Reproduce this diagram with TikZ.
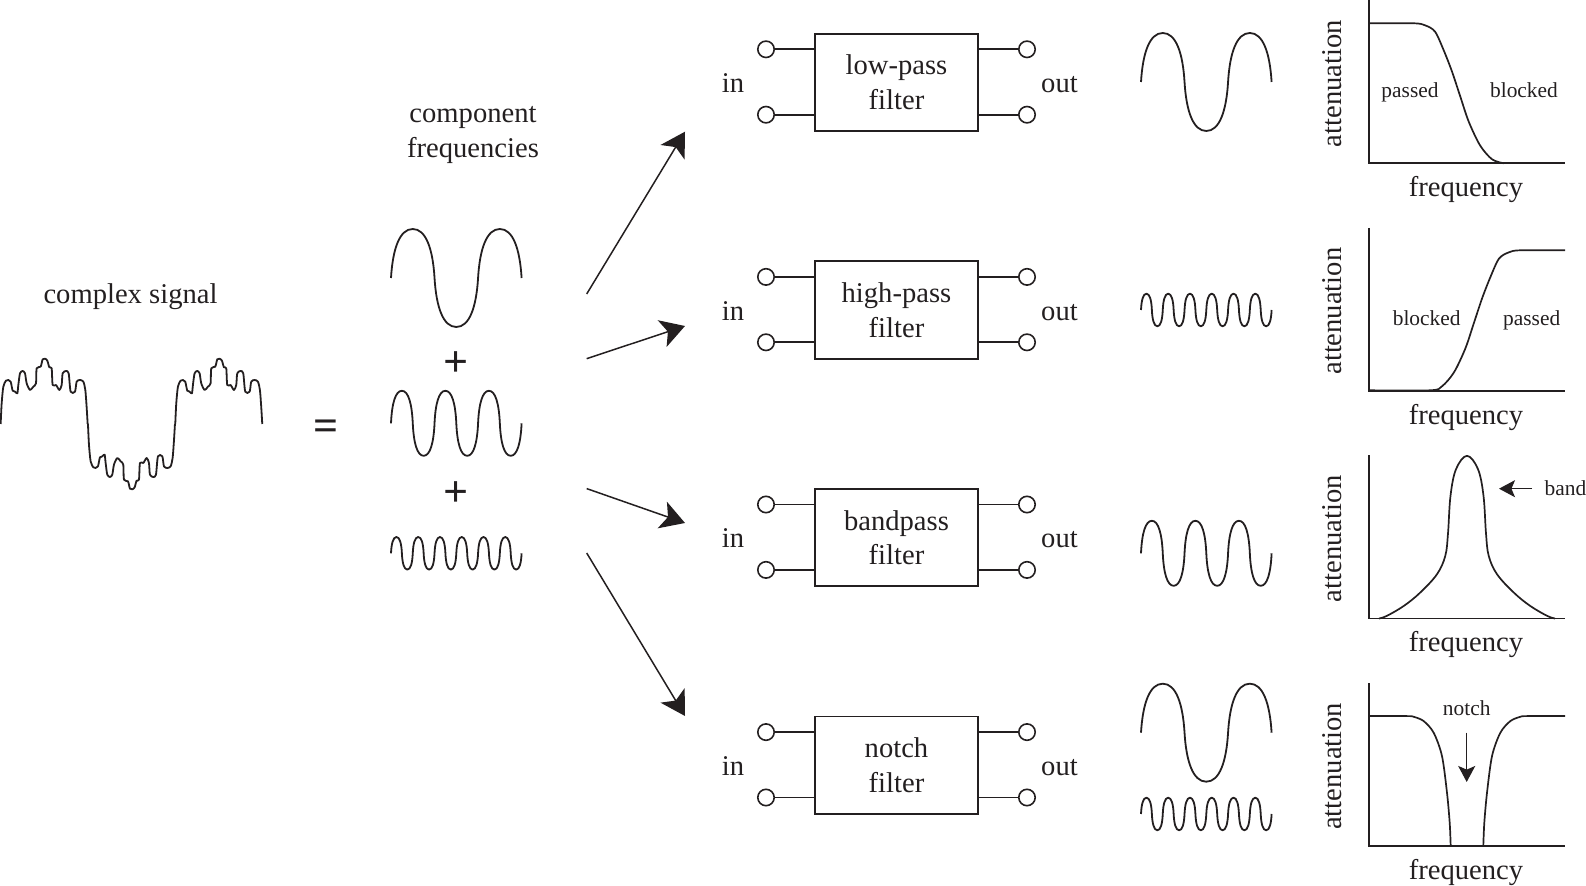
\documentclass[tikz,border=0pt]{standalone}
\usepackage{fontspec}
\setmainfont{Liberation Serif}
\usepackage{xcolor}
\usepackage{tikz}
\usetikzlibrary{arrows.meta}
\definecolor{figInk}{HTML}{231F20}

% Wave of round humps: start x, midline y, amplitude, number of half periods
\newcommand{\wavecurve}[4]{%
  \pgfmathsetmacro{\halfw}{130.6/#4}
  \draw[wave] (#1,#2) foreach \i in {1,...,#4} {
    .. controls ({#1+(\i-1+0.04)*\halfw},{#2-(2*mod(\i,2)-1)*0.6*#3}) and ({#1+(\i-1+0.2)*\halfw},{#2-(2*mod(\i,2)-1)*#3}) .. ({#1+(\i-1+0.5)*\halfw},{#2-(2*mod(\i,2)-1)*#3})
    .. controls ({#1+(\i-1+0.8)*\halfw},{#2-(2*mod(\i,2)-1)*#3}) and ({#1+(\i-1+0.96)*\halfw},{#2-(2*mod(\i,2)-1)*0.6*#3}) .. ({#1+\i*\halfw},#2)
  };
}

\begin{document}
\begin{tikzpicture}[
  x=0.5pt, y=-0.5pt,
  color=figInk,
  wave/.style={line width=0.9pt, line join=round},
  response/.style={line width=0.85pt, line join=round},
  axis line/.style={line width=0.85pt},
  filter box/.style={draw, line width=0.9pt, minimum width=81.5pt, minimum height=48.7pt, inner sep=0pt, align=center, font=\fontsize{14.3}{17.3}\selectfont},
  terminal/.style={draw, circle, line width=0.8pt, minimum size=8.2pt, inner sep=0pt},
  lead/.style={line width=0.9pt},
  main label/.style={font=\fontsize{14.3}{17.3}\selectfont, inner sep=0pt, align=center},
  small label/.style={font=\fontsize{10.7}{12}\selectfont, inner sep=0pt, anchor=base},
  sign label/.style={font=\fontsize{22}{24}\selectfont\bfseries, inner sep=0pt},
  big arrow/.style={line width=0.75pt, -{Stealth[length=12pt, width=14pt, inset=3pt]}},
  small arrow/.style={line width=0.75pt, -{Stealth[length=8pt, width=8.5pt, inset=1.8pt]}},
]
\useasboundingbox (0,0) rectangle (1586,886);

% Complex signal, one hump repeated and flipped
\node[main label, anchor=base] (complexlabel) at (130.5,304) {complex signal};
\foreach \xo/\ys in {0/1, 87.3/-1, 174.6/1} {
  \begin{scope}[shift={(\xo,424)}, xscale=0.3333, yscale=0.3333*\ys]
    \draw[wave] plot[smooth, tension=0.45] coordinates {(2,0) (5,-62) (10,-112) (18,-130) (25,-132) (32,-127) (38,-100) (45,-97) (52,-92) (55,-117) (60,-152) (68,-159) (75,-152) (80,-122) (90,-102) (100,-112) (108,-122) (110,-167) (122,-172) (128,-194) (135,-196) (142,-190) (148,-170) (155,-167) (158,-117) (168,-117) (178,-102) (185,-117) (188,-152) (198,-159) (206,-152) (212,-97) (225,-97) (230,-127) (240,-132) (250,-127) (256,-102) (260,-50) (263,0)};
  \end{scope}
}
\node[sign label] (equals) at (326,430.5) {=};

% Component frequencies
\node[main label] (complabel) at (473,135) {component\\frequencies};
\wavecurve{391}{278}{49}{3}
\node[sign label] (plusa) at (456.3,364.5) {+};
\wavecurve{391}{423.3}{32.5}{6}
\node[sign label] (plusb) at (456.3,494.5) {+};
\wavecurve{391}{553.3}{16.3}{12}

% Arrows out to the four filters
\coordinate (startA) at (586.7,294);
\coordinate (tipA) at (685,131.7);
\coordinate (startB) at (586.7,358.7);
\coordinate (tipB) at (685,326);
\coordinate (startC) at (586.7,488.6);
\coordinate (tipC) at (685,523);
\coordinate (startD) at (586.7,553);
\coordinate (tipD) at (685,716);
\draw[big arrow] (startA) -- (tipA);
\draw[big arrow] (startB) -- (tipB);
\draw[big arrow] (startC) -- (tipC);
\draw[big arrow] (startD) -- (tipD);

% Filter block and axes, one row each
\foreach \row/\kind in {0/low-pass, 1/high-pass, 2/bandpass, 3/notch} {
  \begin{scope}[shift={(0,82+227.6*\row)}]
    \node[filter box] (box\row) at (896.5,0.5) {\kind\\filter};
    \node[terminal] (ina\row) at (766,-32.7) {};
    \node[terminal] (inb\row) at (766,32.7) {};
    \node[terminal] (outa\row) at (1027,-32.7) {};
    \node[terminal] (outb\row) at (1027,32.7) {};
    \draw[lead] (ina\row) -- (ina\row -| box\row.west);
    \draw[lead] (inb\row) -- (inb\row -| box\row.west);
    \draw[lead] (outa\row) -- (outa\row -| box\row.east);
    \draw[lead] (outb\row) -- (outb\row -| box\row.east);
    \node[main label, anchor=base] (inlabel\row) at (733,10.5) {in};
    \node[main label, anchor=base] (outlabel\row) at (1059.5,10.5) {out};
    \node[main label, rotate=90] (atten\row) at (1332,1.5) {attenuation};
    \node[main label, anchor=base] (freq\row) at (1466,114.7) {frequency};
    \coordinate (axtop\row) at (1369,-81.7);
    \coordinate (axorigin\row) at (1369,81.3);
    \coordinate (axright\row) at (1565,81.3);
    \draw[axis line, line join=miter] (axtop\row) -- (axorigin\row) -- (axright\row);
  \end{scope}
}

% Output waves
\wavecurve{1141}{82}{49}{3}
\wavecurve{1141}{310}{16.3}{12}
\wavecurve{1141}{553.3}{32.5}{6}
\wavecurve{1141}{732.7}{49}{3}
\wavecurve{1141}{814}{16.3}{12}

% Low-pass response
\begin{scope}[shift={(1369,163.3)}, yscale=-1]
  \draw[response] plot[smooth, tension=0.5] coordinates {(0,140) (44.7,140) (56,138) (66,131.7) (74.7,113) (83,91.7) (91.3,66.7) (99.7,41.7) (111,18) (123,4) (134.7,0)};
\end{scope}
\node[small label] (passedA) at (1410,97.7) {passed};
\node[small label] (blockedA) at (1524,97.7) {blocked};

% High-pass response
\begin{scope}[shift={(1565,390.3)}, xscale=-1, yscale=-1]
  \draw[response] plot[smooth, tension=0.5] coordinates {(0,140) (44.7,140) (56,138) (66,131.7) (74.7,113) (83,91.7) (91.3,66.7) (99.7,41.7) (111,18) (123,4) (134.7,0) (196,0)};
\end{scope}
\node[small label] (blockedB) at (1426.7,325.5) {blocked};
\node[small label] (passedB) at (1531.7,325.5) {passed};

% Bandpass response
\begin{scope}[shift={(1467,618.5)}, yscale=-1]
  \draw[response] plot[smooth, tension=0.6] coordinates {(-88,0) (-80,2.7) (-63,12.7) (-46.7,26) (-30,44.3) (-21.7,62.7) (-19,85) (-16.5,122.7) (-11,149.3) (0,162.7) (11,149.3) (16.5,122.7) (19,85) (21.7,62.7) (30,44.3) (46.7,26) (63,12.7) (80,2.7) (88,0)};
\end{scope}
\node[small label, anchor=base west] (bandlabel) at (1544.3,496) {band};
\coordinate (bandtail) at (1532,488.7);
\coordinate (bandtip) at (1499,488.7);
\draw[small arrow] (bandtail) -- (bandtip);

% Notch response
\begin{scope}[shift={(1369,846.1)}, yscale=-1]
  \draw[response] plot[smooth, tension=0.5] coordinates {(0,130) (38,130) (44.7,129.3) (54.7,125) (64.7,113.3) (73,90) (78,53.3) (80.7,23.3) (81.7,0)};
  \draw[response] plot[smooth, tension=0.5] coordinates {(196,130) (158,130) (151.3,129.3) (141.3,125) (131.3,113.3) (123,90) (118,53.3) (115.3,23.3) (114.3,0)};
\end{scope}
\node[small label] (notchlabel) at (1466.7,716) {notch};
\coordinate (notchtail) at (1466.7,732.7);
\coordinate (notchtip) at (1466.7,782);
\draw[small arrow] (notchtail) -- (notchtip);
\end{tikzpicture}
\end{document}
